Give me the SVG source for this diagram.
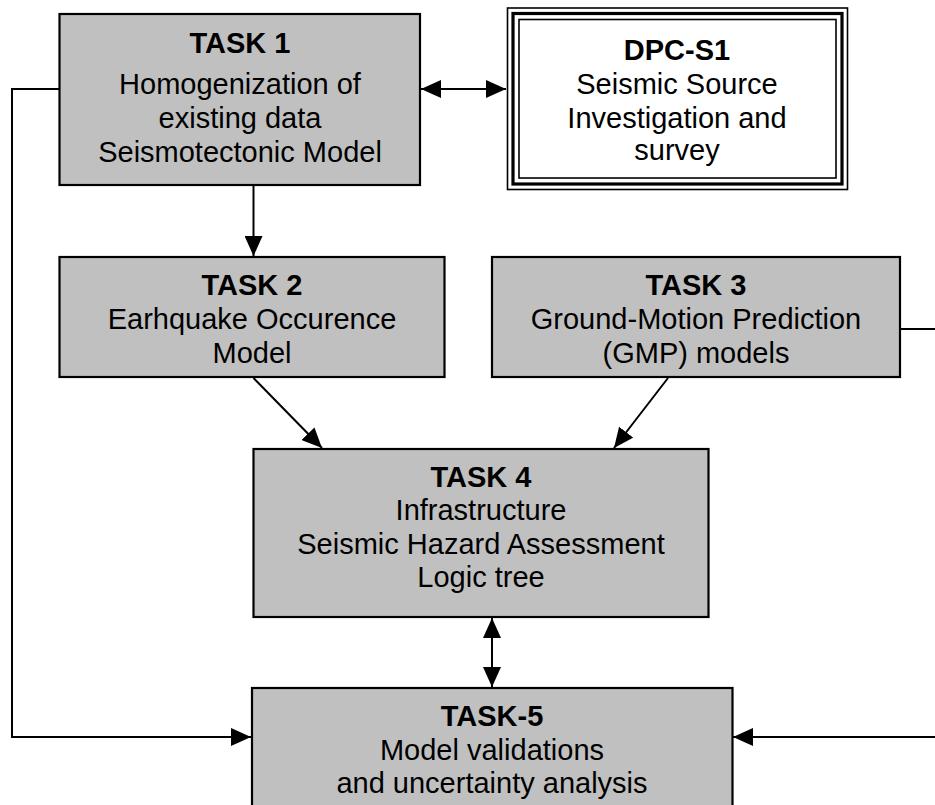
<svg xmlns="http://www.w3.org/2000/svg" width="935" height="805" viewBox="0 0 935 805">
<defs>
<marker id="ah" viewBox="0 0 20 18" refX="20" refY="9" markerWidth="20" markerHeight="18" markerUnits="userSpaceOnUse" orient="auto-start-reverse">
<path d="M0,0 L20,9 L0,18 Z" fill="#000"/>
</marker>
<style>
.box{fill:#c0c0c0;stroke:#000;stroke-width:2.2}
.t{font-family:"Liberation Sans",Arial,sans-serif;font-size:29px;fill:#000;text-anchor:middle}
.b{font-weight:bold}
.c{fill:none;stroke:#000;stroke-width:2}
</style>
</defs>
<rect width="935" height="805" fill="#fff"/>
<g id="connectors">
<path class="c" d="M59,89 H12 V737 H251" marker-end="url(#ah)"/>
<path class="c" d="M900,329 H935"/>
<path class="c" d="M935,737 H733" marker-end="url(#ah)"/>
<path class="c" d="M421,89 H506" marker-start="url(#ah)" marker-end="url(#ah)"/>
<path class="c" d="M253.5,186 V256" marker-end="url(#ah)"/>
<path class="c" d="M253.5,378 L322,448" marker-end="url(#ah)"/>
<path class="c" d="M668,378 L614,448" marker-end="url(#ah)"/>
<path class="c" d="M492,618 V687" marker-start="url(#ah)" marker-end="url(#ah)"/>
</g>
<g id="task1">
<rect class="box" x="59.5" y="14" width="360.5" height="171"/>
<text class="t b" x="240" y="53">TASK 1</text>
<text class="t" x="240" y="94">Homogenization of</text>
<text class="t" x="240" y="128">existing data</text>
<text class="t" x="240" y="162">Seismotectonic Model</text>
</g>
<g id="dpc-s1">
<rect x="507.5" y="8" width="340" height="181.5" fill="#fff" stroke="#000" stroke-width="1.6"/>
<rect x="513" y="13.5" width="329" height="170.5" fill="none" stroke="#000" stroke-width="3.2"/>
<rect x="519" y="19.5" width="317" height="158.5" fill="none" stroke="#000" stroke-width="1.6"/>
<text class="t b" x="677" y="60">DPC-S1</text>
<text class="t" x="677" y="94">Seismic Source</text>
<text class="t" x="677" y="128">Investigation and</text>
<text class="t" x="677" y="160">survey</text>
</g>
<g id="task2">
<rect class="box" x="59.5" y="257" width="385" height="120"/>
<text class="t b" x="252" y="295">TASK 2</text>
<text class="t" x="252" y="329">Earhquake Occurence</text>
<text class="t" x="252" y="363">Model</text>
</g>
<g id="task3">
<rect class="box" x="492" y="257" width="408" height="120"/>
<text class="t b" x="696" y="295">TASK 3</text>
<text class="t" x="696" y="329">Ground-Motion Prediction</text>
<text class="t" x="696" y="363">(GMP) models</text>
</g>
<g id="task4">
<rect class="box" x="253.5" y="449" width="455" height="168"/>
<text class="t b" x="481" y="487">TASK 4</text>
<text class="t" x="481" y="520">Infrastructure</text>
<text class="t" x="481" y="554">Seismic Hazard Assessment</text>
<text class="t" x="481" y="587">Logic tree</text>
</g>
<g id="task5">
<rect class="box" x="252" y="688" width="480.5" height="125"/>
<text class="t b" x="492" y="726">TASK-5</text>
<text class="t" x="492" y="760">Model validations</text>
<text class="t" x="492" y="793">and uncertainty analysis</text>
</g>
</svg>
